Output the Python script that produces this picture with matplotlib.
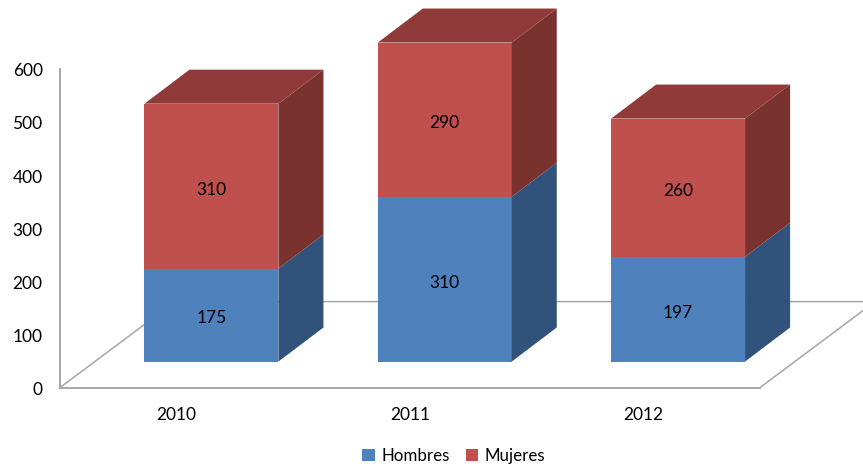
from matplotlib import pyplot as plt
from matplotlib.patches import Patch, Polygon
from matplotlib.transforms import ScaledTranslation

years = ['2010', '2011', '2012']
hombres = [175, 310, 197]
mujeres = [310, 290, 260]
yticks = [0, 100, 200, 300, 400, 500, 600]

plt.rcParams['font.family'] = ['Lato', 'DejaVu Sans']

blue = '#4F81BD'
blue_side = '#31527A'
red = '#C0504D'
red_side = '#7A322F'
red_top = '#903B39'
grey = '#A6A6A6'

# oblique projection, everything is in data units (category, value)
bar_w = 0.574
shift_x = 0.149
base = 49
depth_x = 0.193
depth_y = 64
floor_x = 0.493
floor_y = 161.7

fig = plt.figure(figsize=(8.63, 4.70), dpi=100)
ax = fig.add_axes([60 / 863, (470 - 387.6) / 470, 700 / 863, 319 / 470])
ax.set_xlim(0, 3)
ax.set_ylim(0, 600)
ax.patch.set_visible(False)

for s in ['top', 'right']:
    ax.spines[s].set_visible(False)
for s in ['left', 'bottom']:
    ax.spines[s].set_color(grey)
    ax.spines[s].set_linewidth(1.4)

ax.set_yticks(yticks)
ax.set_xticks([i + 0.5 for i in range(len(years))])
ax.set_xticklabels(years)
ax.tick_params(axis='both', length=0, labelsize=12.5, colors='black')
ax.tick_params(axis='y', pad=12.5)
ax.tick_params(axis='x', pad=14)

# tick labels sit a little lower than matplotlib centres them
down = ScaledTranslation(0, -0.8 / 72, fig.dpi_scale_trans)
for label in ax.get_yticklabels():
    label.set_transform(label.get_transform() + down)

# floor
ax.plot([0, floor_x, 3 + floor_x], [0, floor_y, floor_y], color=grey, lw=1.1, zorder=1, clip_on=False)
ax.plot([3, 3 + floor_x], [0, floor_y], color=grey, lw=1.1, zorder=1, clip_on=False)


def box(x0, y0, y1, front, side):
    x1 = x0 + bar_w
    ax.add_patch(Polygon([(x0, y0), (x1, y0), (x1, y1), (x0, y1)], fc=front, ec='none',
                         zorder=3, clip_on=False))
    ax.add_patch(Polygon([(x1, y0), (x1 + depth_x, y0 + depth_y), (x1 + depth_x, y1 + depth_y), (x1, y1)],
                         fc=side, ec='none', zorder=3, clip_on=False))


def value_label(x, y, val):
    ax.annotate(str(val), (x, y), xytext=(0, -2.5), textcoords='offset points',
                ha='center', va='center', fontsize=12.5, zorder=4)


for i in range(len(years)):
    x0 = i + 0.5 + shift_x - bar_w / 2
    xc = x0 + bar_w / 2
    y1 = base + hombres[i]
    y2 = y1 + mujeres[i]
    box(x0, base, y1, blue, blue_side)
    box(x0, y1, y2, red, red_side)
    ax.add_patch(Polygon([(x0, y2), (x0 + bar_w, y2), (x0 + bar_w + depth_x, y2 + depth_y), (x0 + depth_x, y2 + depth_y)],
                         fc=red_top, ec='none', zorder=3, clip_on=False))
    value_label(xc, base + hombres[i] / 2, hombres[i])
    value_label(xc, y1 + mujeres[i] / 2, mujeres[i])

handles = [Patch(fc=blue, label='Hombres'), Patch(fc=red, label='Mujeres')]
fig.legend(handles=handles, loc='center', bbox_to_anchor=(454 / 863, 1 - 456 / 470), ncol=2, frameon=False,
           fontsize=12.2, handlelength=0.75, handleheight=0.75, handletextpad=0.4, columnspacing=0.9, borderpad=0)

fig.savefig('out.png', dpi=100)
